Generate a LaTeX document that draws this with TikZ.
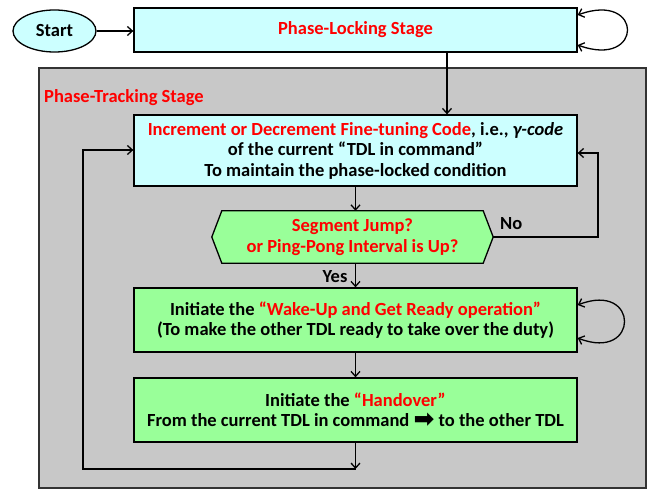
\documentclass[tikz,border=0pt]{standalone}
\usepackage{fontspec}
\setmainfont{Carlito}
\newfontfamily\symfont{DejaVu Sans}
\usetikzlibrary{shapes.geometric,arrows.meta}
\definecolor{boxcyan}{HTML}{CCFFFF}
\definecolor{boxgreen}{HTML}{99FF99}
\definecolor{stagegray}{HTML}{C8C8C8}
\definecolor{txtred}{HTML}{FF0000}
\begin{document}
\begin{tikzpicture}[x=1pt,y=-1pt,
  every node/.style={font=\bfseries\fontsize{18.5}{20.5}\selectfont, inner sep=0pt},
  procbox/.style={draw=black, line width=1.3pt, rectangle, align=center},
  arr/.style={draw=black, line width=1.3pt, -{Straight Barb[length=5pt,width=9pt,line width=1.3pt]}},
  loop/.style={draw=black, line width=1.3pt, {Straight Barb[length=5pt,width=9pt,line width=1.3pt]}-{Straight Barb[length=5pt,width=9pt,line width=1.3pt]}},
  red/.style={text=txtred}]
\useasboundingbox (0,0) rectangle (650,489);

% outer stage container
\node[draw=black!80, line width=2.2pt, fill=stagegray, minimum width=607, minimum height=420] (track) at (342.5,278) {};
\node[red, anchor=base west] (tracktitle) at (44,103) {Phase-Tracking Stage};

% start and phase-locking stage
\node[draw=black, line width=1.3pt, fill=boxcyan, ellipse, minimum width=83, minimum height=42] (start) at (54.5,31) {Start};
\node[procbox, fill=boxcyan, minimum width=443, minimum height=44] (lock) at (355.5,30) {\textcolor{txtred}{Phase-Locking Stage}};

% tracking steps
\node[procbox, fill=boxcyan, minimum width=443, minimum height=71] (inc) at (355.5,150.5)
  {\textcolor{txtred}{Increment or Decrement Fine-tuning Code}, i.e., \textit{γ-code}\\
   of the current “TDL in command”\\
   To maintain the phase-locked condition};

% decision hexagon: invisible frame, outline from its anchors, then the text
\node[minimum width=281, minimum height=52] (dec) at (352.5,237) {};
\draw[line width=1.3pt, fill=boxgreen]
  (dec.west) -- ([xshift=10]dec.north west) -- ([xshift=-10]dec.north east) --
  (dec.east) -- ([xshift=-10]dec.south east) -- ([xshift=10]dec.south west) -- cycle;
\node[red, align=center] (dectext) at (dec) {Segment Jump?\\or Ping-Pong Interval is Up?};

\node[procbox, fill=boxgreen, minimum width=443, minimum height=64] (wake) at (355.5,320)
  {Initiate the \textcolor{txtred}{“Wake-Up and Get Ready operation”}\\
   (To make the other TDL ready to take over the duty)};
\node[procbox, fill=boxgreen, minimum width=443, minimum height=64] (hand) at (355.5,410)
  {Initiate the \textcolor{txtred}{“Handover”}\\
   From the current TDL in command {\symfont\fontsize{25}{20}\selectfont\raisebox{-1pt}{➡}} to the other TDL};

% connectors
\draw[arr] (start.east) -- (start.east -| lock.west);
\draw[loop] ([yshift=15]lock.east) .. controls +(66,-24) and +(66,24) .. ([yshift=-15]lock.east);
\draw[arr] ([xshift=91.5]lock.south) -- ([xshift=91.5]lock.south |- inc.north);
\draw[arr] (inc.south) -- (inc.south |- dec.north);
\draw[arr] (inc.south |- dec.south) -- (wake.north);
\node[anchor=base] (yes) at (335,282) {Yes};
\coordinate (rturn) at (598,153);
\draw[arr] (dec.east) -| (rturn) -- (rturn -| inc.east);
\node[anchor=base west] (no) at (500,229) {No};
\draw[loop] ([yshift=15]wake.east) .. controls +(62,-24) and +(62,24) .. ([yshift=-18]wake.east);
\draw[arr] (wake.south) -- (hand.north);
\coordinate (bot) at (355.5,469);
\coordinate (lft) at (83,150);
\draw[arr] (hand.south) -- (bot);
\draw[arr] (bot) -| (lft) -- (lft -| inc.west);
\end{tikzpicture}
\end{document}
